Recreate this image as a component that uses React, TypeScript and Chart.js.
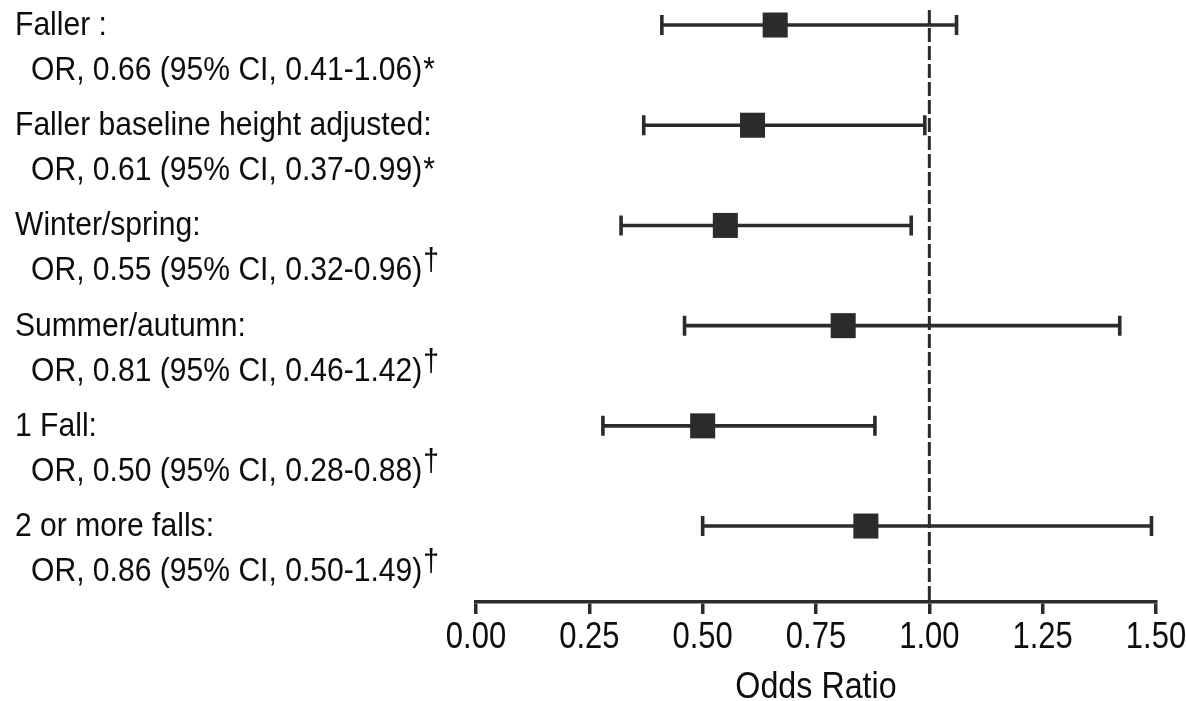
import React, { useEffect, useRef } from "react";
import { Chart, registerables } from "chart.js";

Chart.register(...registerables);

const categories = [
  "Faller :",
  "Faller baseline height adjusted:",
  "Winter/spring:",
  "Summer/autumn:",
  "1 Fall:",
  "2 or more falls:",
];
const oddsRatios = [0.66, 0.61, 0.55, 0.81, 0.5, 0.86];
const ciLower = [0.41, 0.37, 0.32, 0.46, 0.28, 0.5];
const ciUpper = [1.06, 0.99, 0.96, 1.42, 0.88, 1.49];
const notes = ["*", "*", "\u2020", "\u2020", "\u2020", "\u2020"];
const xTicks = [0, 0.25, 0.5, 0.75, 1.0, 1.25, 1.5];
const xTitle = "Odds Ratio";
const referenceValue = 1.0;

const INK = "#2d2a2b";
const TEXT = "#0d0d0d";
const FONT = '"Liberation Sans", Arial, sans-serif';
const SQUEEZE_AXIS = 0.86;
const SQUEEZE_LABEL = 0.885;

function drawNarrow(ctx: any, text: string, x: number, y: number, align: "left" | "center", sq: number) {
  ctx.save();
  ctx.translate(x, y);
  ctx.scale(sq, 1);
  ctx.textAlign = align;
  ctx.fillText(text, 0, 0);
  ctx.restore();
}

const forestPlugin = {
  id: "forest",
  beforeDatasetsDraw(chart: any) {
    const { ctx, chartArea, scales } = chart;
    const xs = scales.x;
    const ys = scales.y;
    ctx.save();
    const rx = xs.getPixelForValue(referenceValue);
    ctx.strokeStyle = INK;
    ctx.lineWidth = 3;
    ctx.setLineDash([14, 4]);
    ctx.beginPath();
    ctx.moveTo(rx, chartArea.top);
    ctx.lineTo(rx, chartArea.bottom);
    ctx.stroke();
    ctx.setLineDash([]);
    ctx.lineWidth = 3.6;
    for (let i = 0; i < oddsRatios.length; i++) {
      const y = ys.getPixelForValue(i);
      const x1 = xs.getPixelForValue(ciLower[i]);
      const x2 = xs.getPixelForValue(ciUpper[i]);
      ctx.beginPath();
      ctx.moveTo(x1, y);
      ctx.lineTo(x2, y);
      ctx.moveTo(x1, y - 10);
      ctx.lineTo(x1, y + 10);
      ctx.moveTo(x2, y - 10);
      ctx.lineTo(x2, y + 10);
      ctx.stroke();
    }
    ctx.restore();
  },
  afterDraw(chart: any) {
    const { ctx, scales, chartArea } = chart;
    const xs = scales.x;
    const ys = scales.y;
    ctx.save();
    ctx.fillStyle = TEXT;
    ctx.textBaseline = "alphabetic";
    for (let i = 0; i < categories.length; i++) {
      const y = ys.getPixelForValue(i);
      ctx.font = `34px ${FONT}`;
      drawNarrow(ctx, categories[i], 15, y + 10, "left", SQUEEZE_LABEL);
      const line2 = `OR, ${oddsRatios[i].toFixed(2)} (95% CI, ${ciLower[i].toFixed(2)}-${ciUpper[i].toFixed(2)})`;
      drawNarrow(ctx, line2, 31, y + 55, "left", SQUEEZE_LABEL);
      const w = ctx.measureText(line2).width * SQUEEZE_LABEL;
      if (notes[i] === "*") {
        drawNarrow(ctx, notes[i], 31 + w + 1, y + 55, "left", SQUEEZE_LABEL);
      } else {
        ctx.font = `32px ${FONT}`;
        drawNarrow(ctx, notes[i], 31 + w + 1, y + 45, "left", SQUEEZE_LABEL);
      }
    }
    ctx.font = `36px ${FONT}`;
    for (const t of xTicks) {
      drawNarrow(ctx, t.toFixed(2), xs.getPixelForValue(t), chartArea.bottom + 46, "center", SQUEEZE_AXIS);
    }
    ctx.font = `37.5px ${FONT}`;
    drawNarrow(ctx, xTitle, (chartArea.left + chartArea.right) / 2, chartArea.bottom + 96, "center", SQUEEZE_AXIS);
    ctx.restore();
  },
};

export default function App() {
  const ref = useRef<HTMLCanvasElement | null>(null);
  useEffect(() => {
    if (!ref.current) return;
    const chart = new Chart(ref.current, {
      type: "scatter",
      data: {
        datasets: [
          {
            data: oddsRatios.map((v, i) => ({ x: v, y: i })),
            pointStyle: "rect",
            pointRadius: 17.7,
            pointHoverRadius: 17.7,
            backgroundColor: INK,
            borderColor: INK,
            borderWidth: 0,
          },
        ],
      },
      options: {
        animation: false,
        responsive: false,
        events: [],
        layout: { autoPadding: false, padding: { left: 476, right: 30, top: 10, bottom: 87 } },
        plugins: {
          legend: { display: false },
          tooltip: { enabled: false },
        },
        scales: {
          x: {
            type: "linear",
            min: 0,
            max: 1.5,
            afterBuildTicks: (scale: any) => {
              scale.ticks = xTicks.map((v) => ({ value: v }));
            },
            ticks: { display: false },
            grid: {
              display: true,
              drawOnChartArea: false,
              drawTicks: true,
              tickLength: 12,
              lineWidth: 3.5,
              color: INK,
            },
            border: { display: true, color: INK, width: 3.5 },
            title: { display: false },
          },
          y: {
            type: "linear",
            display: false,
            reverse: true,
            min: -0.15,
            max: 5.758,
          },
        },
      },
      plugins: [forestPlugin],
    });
    return () => chart.destroy();
  }, []);
  return (
    <div style={{ position: "fixed", left: 0, top: 0, width: 1186, height: 701, background: "#fff" }}>
      <canvas ref={ref} width={1186} height={701} style={{ width: 1186, height: 701 }} />
    </div>
  );
}
